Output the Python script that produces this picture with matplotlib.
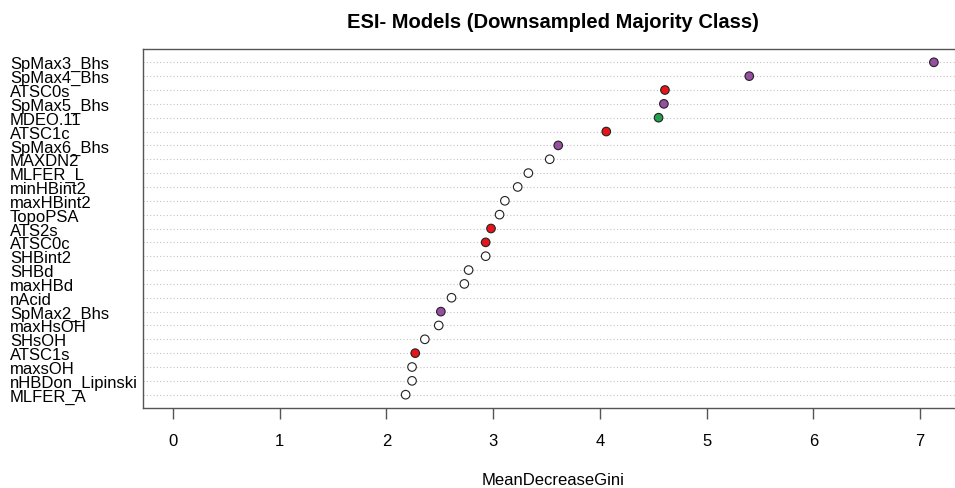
import matplotlib
matplotlib.use("Agg")
import matplotlib.pyplot as plt

# Data (top to bottom as displayed)
variables = ["SpMax3_Bhs", "SpMax4_Bhs", "ATSC0s", "SpMax5_Bhs", "MDEO.11", "ATSC1c",
             "SpMax6_Bhs", "MAXDN2", "MLFER_L", "minHBint2", "maxHBint2", "TopoPSA",
             "ATS2s", "ATSC0c", "SHBint2", "SHBd", "maxHBd", "nAcid", "SpMax2_Bhs",
             "maxHsOH", "SHsOH", "ATSC1s", "maxsOH", "nHBDon_Lipinski", "MLFER_A"]
gini = [7.13, 5.40, 4.61, 4.60, 4.55, 4.06,
        3.61, 3.53, 3.33, 3.23, 3.11, 3.06,
        2.98, 2.93, 2.93, 2.77, 2.73, 2.61, 2.51,
        2.49, 2.36, 2.27, 2.24, 2.24, 2.18]
groups = ["purple", "purple", "red", "purple", "green", "red",
          "purple", "none", "none", "none", "none", "none",
          "red", "red", "none", "none", "none", "none", "purple",
          "none", "none", "red", "none", "none", "none"]
xticks = [0, 1, 2, 3, 4, 5, 6, 7]

palette = {"purple": "#984EA3", "red": "#E8141C", "green": "#22A04B", "none": "white"}

plt.rcParams['font.family'] = ['Liberation Sans', 'DejaVu Sans']

W, H = 955, 489
fig = plt.figure(figsize=(W / 100, H / 100), dpi=100)

n = len(variables)
ypos = list(range(n, 0, -1))
xmax = max(gini)
xlo, xhi = 0 - 0.04 * xmax, xmax * 1.04
ylo, yhi = 1 - 0.04 * (n - 1), n + 0.04 * (n - 1)

top_px, bottom_px = 50, 409
x0_px, x7_px = 173, 920
unit_px = (x7_px - x0_px) / 7.0
left_px = x0_px + xlo * unit_px
width_px = (xhi - xlo) * unit_px
ax = fig.add_axes([left_px / W, (H - bottom_px) / H, width_px / W, (bottom_px - top_px) / H])
ax.set_xlim(xlo, xhi)
ax.set_ylim(ylo, yhi)

for y in ypos:
    ax.axhline(y, color="#c4c4c4", lw=0.8, linestyle=(0, (1, 2)), zorder=1)

ax.scatter(gini, ypos, s=38, c=[palette[g] for g in groups],
           edgecolors="#222222", linewidths=0.8, zorder=3)

ax.set_yticks(ypos)
ax.set_yticklabels(variables, fontsize=12)
ax.tick_params(axis='y', length=0, pad=(left_px - 10) * 0.72)
for lab in ax.get_yticklabels():
    lab.set_horizontalalignment('left')

ax.set_xticks(xticks)
ax.set_xticklabels([str(t) for t in xticks], fontsize=12)
ax.tick_params(axis='x', length=8, width=1, color="#555555", pad=10)

for s in ax.spines.values():
    s.set_color("#555555")
    s.set_linewidth(1.0)

ax.set_xlabel("MeanDecreaseGini", fontsize=12)
ax.xaxis.set_label_coords(0.5, (bottom_px - 481) / (bottom_px - top_px))
ax.xaxis.label.set_va('center')

ax.set_title("ESI- Models (Downsampled Majority Class)", fontsize=14.5, fontweight='bold',
             y=1 + (top_px - 23) / (bottom_px - top_px), va='center', pad=0)

fig.savefig("out.png", dpi=100)
